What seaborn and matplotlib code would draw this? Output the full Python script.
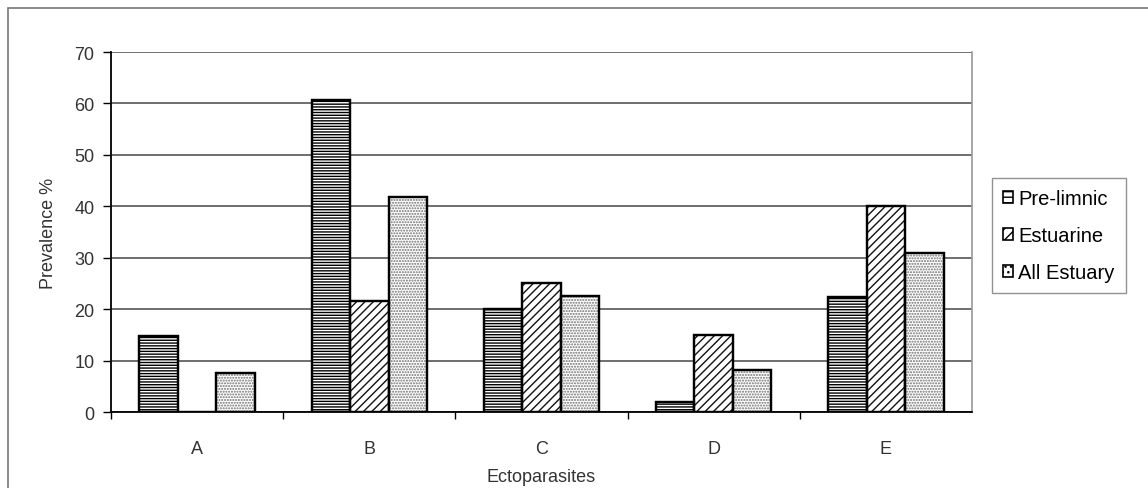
import matplotlib
matplotlib.use("Agg")
import matplotlib.pyplot as plt
from matplotlib.patches import Patch, Rectangle
from matplotlib.ticker import FixedLocator
import seaborn as sns
import pandas as pd

parasites = ["A", "B", "C", "D", "E"]
sites = ["Pre-limnic", "Estuarine", "All Estuary"]
pre_limnic = [14.8, 60.6, 20.0, 2.0, 22.3]
estuarine = [0.0, 21.6, 25.1, 15.0, 40.0]
all_estuary = [7.6, 41.9, 22.5, 8.2, 31.0]
hatches = ["------", "////", "......"]
hatch_colors = ["black", "#111111", "#707070"]

rows = []
for site, vals in zip(sites, [pre_limnic, estuarine, all_estuary]):
    for p, v in zip(parasites, vals):
        rows.append({"parasite": p, "site": site, "prevalence": v})
df = pd.DataFrame(rows)

sns.set_style("white")
plt.rcParams["font.family"] = ["Liberation Sans", "DejaVu Sans"]
plt.rcParams["hatch.linewidth"] = 1.0

fig = plt.figure(figsize=(11.48, 4.89), dpi=100)
ax = fig.add_axes([0.0967, 0.1554, 0.750, 0.7362])

sns.barplot(data=df, x="parasite", y="prevalence", hue="site", order=parasites,
            hue_order=sites, palette=["white"] * 3, edgecolor="black",
            linewidth=1.6, width=0.67, ax=ax, legend=False, zorder=3)

# hatch layer drawn over each bar (lets the dots be grey while the edge stays black)
for container, h, hc in zip(ax.containers, hatches, hatch_colors):
    for bar in container:
        over = Rectangle(bar.get_xy(), bar.get_width(), bar.get_height(),
                         fill=False, hatch=h, edgecolor=hc, linewidth=0, zorder=3.2)
        ax.add_patch(over)
        frame = Rectangle(bar.get_xy(), bar.get_width(), bar.get_height(),
                          fill=False, edgecolor="black", linewidth=1.6, zorder=3.4)
        ax.add_patch(frame)

ax.set_ylim(0, 70)
ax.set_xlim(-0.5, 4.5)
ax.set_yticks(range(0, 71, 10))
ax.yaxis.grid(True, color="#555555", linewidth=1.2, zorder=0)
ax.set_axisbelow(True)

ax.tick_params(axis="y", direction="out", length=6, width=1, color="black",
               labelsize=13, labelcolor="#333333", pad=6, left=True)
ax.tick_params(axis="x", which="major", length=0, labelsize=13,
               labelcolor="#333333", pad=20)
ax.xaxis.set_minor_locator(FixedLocator([-0.5, 0.5, 1.5, 2.5, 3.5]))
ax.tick_params(axis="x", which="minor", direction="out", length=5, width=1,
               color="black", bottom=True)

for side in ["left", "bottom"]:
    ax.spines[side].set_color("black")
    ax.spines[side].set_linewidth(1.3)
ax.spines["top"].set_visible(False)
ax.spines["right"].set_color("#999999")
ax.spines["right"].set_linewidth(1.2)

ax.set_xlabel("Ectoparasites", fontsize=13, color="#333333", labelpad=8)
ax.set_ylabel("Prevalence %", fontsize=13, color="#333333", labelpad=12)

handles = [Patch(facecolor="white", edgecolor="black", hatch=h[:3], linewidth=1.2)
           for h in hatches]
leg = fig.legend(handles, sites, loc="upper left", bbox_to_anchor=(0.864, 0.634),
                 fontsize=14.5, frameon=True, fancybox=False, edgecolor="#777777",
                 handlelength=0.5, handleheight=0.5, handletextpad=0.25,
                 labelspacing=0.9, borderpad=0.55, borderaxespad=0)
leg.get_frame().set_linewidth(1.0)
for t in leg.get_texts():
    t.set_color("black")

fig.patches.append(Rectangle((8 / 1148, -0.1), 1.2, 1 - 9 / 489 + 0.1,
                             transform=fig.transFigure, fill=False,
                             edgecolor="#777777", linewidth=1.2))

fig.savefig("out.png", dpi=100)
